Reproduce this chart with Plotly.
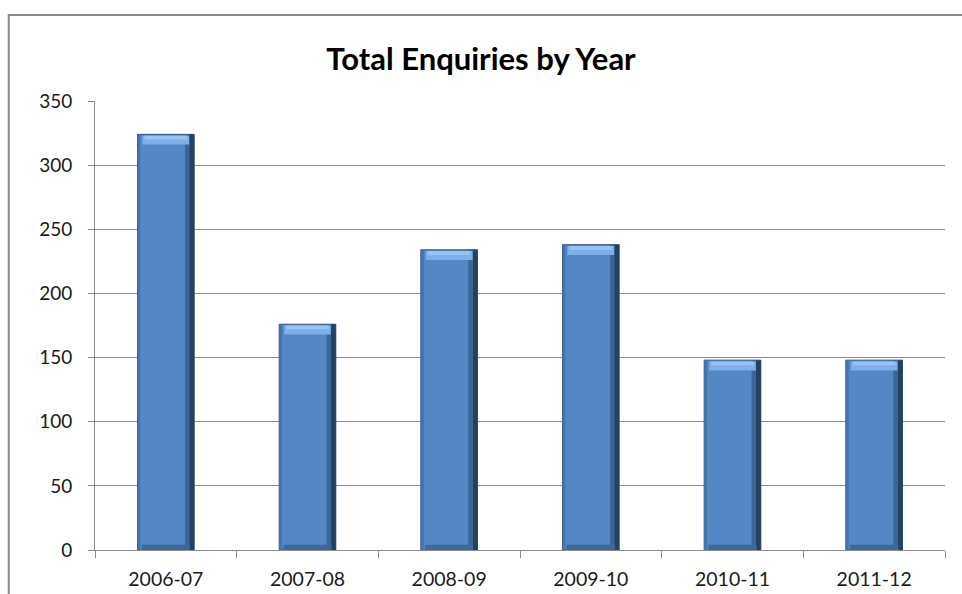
import plotly.graph_objects as go

categories = ["2006-07", "2007-08", "2008-09", "2009-10", "2010-11", "2011-12"]
enquiries = [324, 176, 234, 238, 148, 148]
y_ticks = [0, 50, 100, 150, 200, 250, 300, 350]

BAR_W = 0.4
fig = go.Figure()
# main bar body
fig.add_trace(go.Bar(x=categories, y=enquiries, width=BAR_W,
                     marker=dict(color="#5587C7", line=dict(color="#34567F", width=1)),
                     hoverinfo="x+y"))
# right dark edge shading
fig.add_trace(go.Bar(x=categories, y=enquiries, width=0.035, offset=BAR_W/2 - 0.035,
                     marker=dict(color="#24415F", line=dict(width=0)), hoverinfo="skip"))
fig.add_trace(go.Bar(x=categories, y=enquiries, width=0.03, offset=BAR_W/2 - 0.065,
                     marker=dict(color="#3C6597", line=dict(width=0)), hoverinfo="skip"))
# left slight shade
fig.add_trace(go.Bar(x=categories, y=enquiries, width=0.02, offset=-BAR_W/2,
                     marker=dict(color="#4673AE", line=dict(width=0)), hoverinfo="skip"))
# top bevel highlight
fig.add_trace(go.Bar(x=categories, y=[7] * len(enquiries), base=[v - 8 for v in enquiries],
                     width=BAR_W - 0.07,
                     marker=dict(color="#7EAFEA", line=dict(width=0)), hoverinfo="skip"))
fig.add_trace(go.Bar(x=categories, y=[3] * len(enquiries), base=[v - 4 for v in enquiries],
                     width=BAR_W - 0.1,
                     marker=dict(color="#98C4F4", line=dict(width=0)), hoverinfo="skip"))
# bottom bevel shade
fig.add_trace(go.Bar(x=categories, y=[4] * len(enquiries), base=[0] * len(enquiries),
                     width=BAR_W - 0.06,
                     marker=dict(color="#3F6799", line=dict(width=0)), hoverinfo="skip"))

fig.update_layout(
    width=962, height=594,
    margin=dict(l=95, r=17, t=101, b=44),
    paper_bgcolor="white", plot_bgcolor="white",
    barmode="overlay", showlegend=False, bargap=0.6,
    font=dict(family="Lato, Open Sans, sans-serif", color="#1a1a1a"),
    title=dict(text="<b>Total Enquiries by Year</b>", x=0.5, xanchor="center",
               y=0.9, yanchor="middle", font=dict(size=31, color="black")),
    xaxis=dict(type="category", categoryorder="array", categoryarray=categories,
               showline=True, linecolor="#8c8c8c", linewidth=1, automargin=False,
               ticks="outside", tickson="boundaries", ticklen=7, tickcolor="#8c8c8c",
               ticklabelstandoff=12,
               showgrid=False, tickfont=dict(size=19.5)),
    yaxis=dict(range=[0, 350], tickvals=y_ticks, showline=True, linecolor="#8c8c8c",
               linewidth=1, ticks="outside", ticklen=6, tickcolor="#8c8c8c",
               ticklabelstandoff=12, automargin=False,
               showgrid=True, gridcolor="#8c8c8c", gridwidth=1, zeroline=False,
               tickfont=dict(size=19)),
    shapes=[dict(type="rect", xref="paper", yref="paper",
                 x0=-0.1015, x1=1.05, y0=-0.2, y1=1.1915,
                 line=dict(color="#8a8a8a", width=2), layer="below")],
)

fig.write_html("out.html")
